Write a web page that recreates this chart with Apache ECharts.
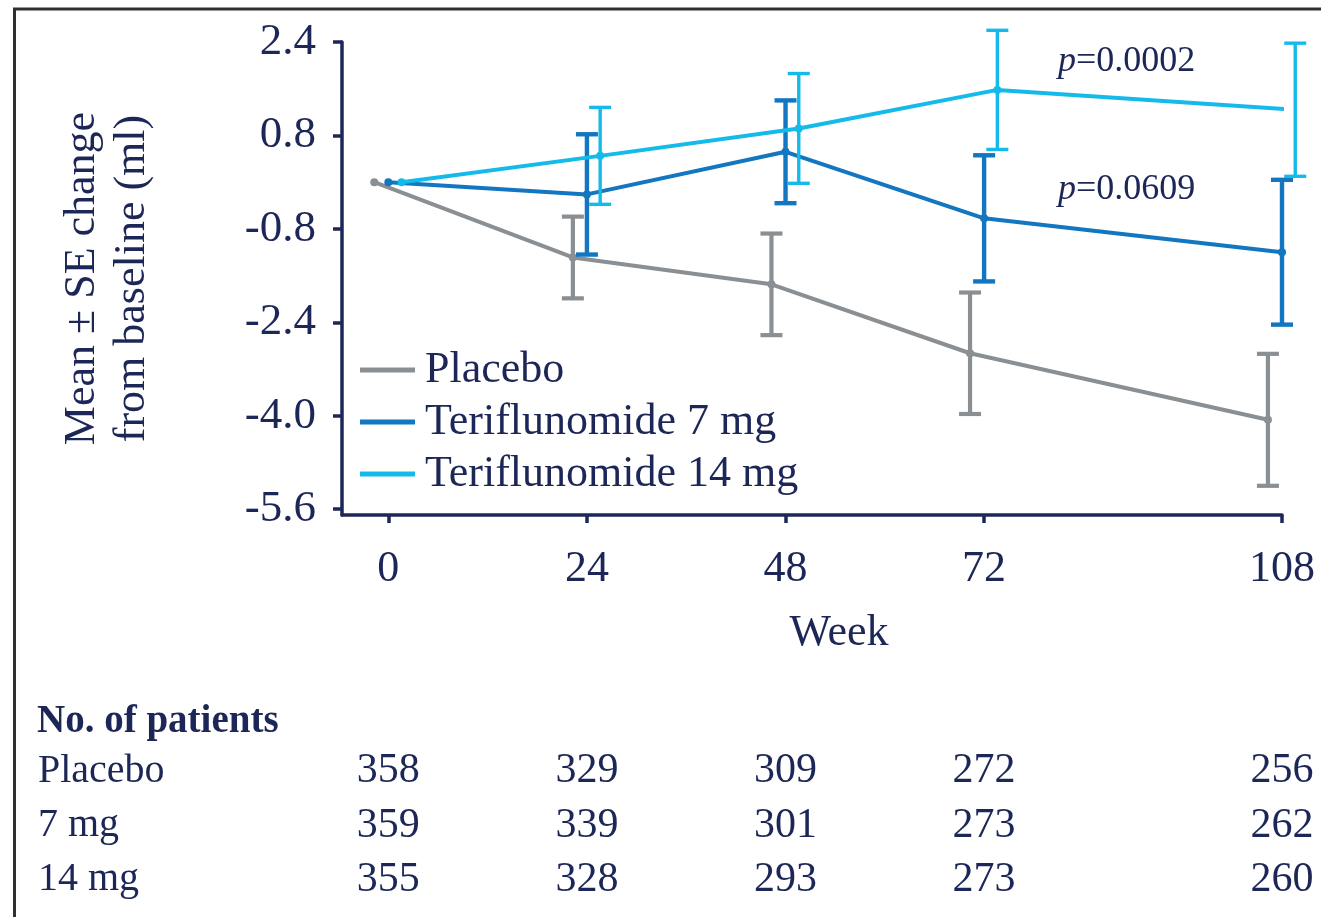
<!DOCTYPE html>
<html>
<head>
<meta charset="utf-8">
<script src="https://cdn.jsdelivr.net/npm/echarts@6/dist/echarts.min.js"></script>
<style>
  html, body { margin: 0; padding: 0; background: #ffffff; }
  #chart { width: 1321px; height: 917px; }
</style>
</head>
<body>
<div id="chart"></div>
<script>
// Study visits (weeks)
const weeks = [0, 24, 48, 72, 108];
const weekTicks = [0, 24, 48, 72, 108];
const yTicks = [-5.6, -4.0, -2.4, -0.8, 0.8, 2.4];

// Mean change from baseline and standard error per arm
const placeboMean = [0, -1.29, -1.75, -2.93, -4.07];
const placeboSE   = [0, 0.70, 0.87, 1.04, 1.13];
const mg7Mean     = [0, -0.21, 0.52, -0.62, -1.20];
const mg7SE       = [0, 1.03, 0.88, 1.08, 1.24];
const mg14Mean    = [0, 0.45, 0.92, 1.58, 1.24];
const mg14SE      = [0, 0.83, 0.94, 1.02, 1.14];

// Arm names
const armNames = ['Placebo', 'Teriflunomide 7 mg', 'Teriflunomide 14 mg'];

// Patients at risk
const rowNames  = ['Placebo', '7 mg', '14 mg'];
const placeboN  = [358, 329, 309, 272, 256];
const mg7N      = [359, 339, 301, 273, 262];
const mg14N     = [355, 328, 293, 273, 260];

// p-values versus placebo at week 108
const pValues = ['0.0002', '0.0609'];

const NAVY = '#1d2757';
const FONT = 'Liberation Serif';
const colors = ['#8a8f93', '#1276c0', '#14bae9'];
const dodge = [-1.7, 0, 1.6];           // horizontal separation of arms, in weeks
const barWidths = [4.2, 4.4, 3.4];

const means = [placeboMean, mg7Mean, mg14Mean];
const ses = [placeboSE, mg7SE, mg14SE];

const lineSeries = armNames.map((name, i) => ({
  name: name,
  type: 'line',
  xAxisIndex: 0, yAxisIndex: 0,
  data: weeks.map((w, k) => [w + dodge[i], means[i][k]]),
  symbol: 'circle',
  symbolSize: 8,
  lineStyle: { color: colors[i], width: 4 },
  itemStyle: { color: colors[i] },
  z: 2 + i * 2
}));

const errSeries = armNames.map((name, i) => ({
  name: name + ' SE',
  type: 'custom',
  xAxisIndex: 0, yAxisIndex: 0,
  data: weeks.map((w, k) => [w + dodge[i], means[i][k] - ses[i][k], means[i][k] + ses[i][k]])
             .filter((d, k) => ses[i][k] > 0),
  renderItem: function (params, api) {
    const x = api.value(0);
    const top = api.coord([x, api.value(2)]);
    const bot = api.coord([x, api.value(1)]);
    const half = 11;
    const st = { stroke: colors[i], lineWidth: barWidths[i] };
    return {
      type: 'group',
      children: [
        { type: 'line', shape: { x1: top[0], y1: top[1], x2: bot[0], y2: bot[1] }, style: st },
        { type: 'line', shape: { x1: top[0] - half, y1: top[1], x2: top[0] + half, y2: top[1] }, style: st },
        { type: 'line', shape: { x1: bot[0] - half, y1: bot[1], x2: bot[0] + half, y2: bot[1] }, style: st }
      ]
    };
  },
  z: 3 + i * 2
}));

const countSets = [placeboN, mg7N, mg14N];
const tableSeries = {
  type: 'scatter',
  xAxisIndex: 1, yAxisIndex: 1,
  symbolSize: 0,
  itemStyle: { opacity: 1 },
  data: rowNames.flatMap((r, i) => weeks.map((w, k) => [w, r, countSets[i][k]])),
  label: {
    show: true,
    position: 'inside',
    formatter: p => String(p.value[2]),
    fontFamily: FONT, fontSize: 42, color: NAVY, opacity: 1
  },
  silent: true
};

const chart = echarts.init(document.getElementById('chart'), null, { renderer: 'canvas' });
chart.setOption({
  backgroundColor: '#ffffff',
  animation: false,
  title: {
    text: 'No. of patients',
    left: 32, top: 697,
    textStyle: { fontFamily: FONT, fontSize: 39, fontWeight: 'bold', color: NAVY }
  },
  legend: {
    data: armNames,
    orient: 'vertical',
    left: 360, top: 348,
    padding: 0,
    icon: 'rect',
    itemWidth: 55, itemHeight: 5,
    itemGap: 8,
    textStyle: { fontFamily: FONT, fontSize: 44, color: NAVY, lineHeight: 44, padding: [0, 0, 0, 5] }
  },
  grid: [
    { left: 342, right: 39, top: 42, bottom: 402 },
    { left: 342, right: 39, top: 744, bottom: 10 }
  ],
  xAxis: [
    {
      type: 'value', gridIndex: 0, min: -5.6, max: 108,
      name: 'Week', nameLocation: 'middle', nameGap: 96,
      nameTextStyle: { fontFamily: FONT, fontSize: 44, color: NAVY, padding: [0, 0, 0, 54] },
      axisLine: { onZero: false, lineStyle: { color: NAVY, width: 3.5 } },
      axisTick: { show: true, customValues: weekTicks, length: 8, lineStyle: { color: NAVY, width: 3.5 } },
      axisLabel: { customValues: weekTicks, margin: 32, fontFamily: FONT, fontSize: 44, color: NAVY },
      splitLine: { show: false }
    },
    {
      type: 'value', gridIndex: 1, min: -5.6, max: 108, show: false
    }
  ],
  yAxis: [
    {
      type: 'value', gridIndex: 0, min: -5.7, max: 2.4,
      name: 'Mean \u00b1 SE change\nfrom baseline (ml)',
      nameLocation: 'middle', nameGap: 185, nameRotate: 90,
      nameTextStyle: { fontFamily: FONT, fontSize: 44, color: NAVY, lineHeight: 50 },
      axisLine: { show: true, onZero: false, lineStyle: { color: NAVY, width: 3.5 } },
      axisTick: { show: true, customValues: yTicks, length: 9, lineStyle: { color: NAVY, width: 3.5 } },
      axisLabel: {
        customValues: yTicks, margin: 26,
        formatter: v => v.toFixed(1),
        fontFamily: FONT, fontSize: 45, color: NAVY
      },
      splitLine: { show: false }
    },
    {
      type: 'category', gridIndex: 1, data: rowNames.slice(), inverse: true,
      axisLine: { show: false }, axisTick: { show: false }, splitLine: { show: false },
      axisLabel: { align: 'left', margin: 304, fontFamily: FONT, fontSize: 40, color: NAVY }
    }
  ],
  graphic: [
    {
      type: 'rect', silent: true,
      shape: { x: 14.5, y: 9, width: 1400, height: 1000 },
      style: { fill: 'none', stroke: '#303030', lineWidth: 3 }
    },
    {
      type: 'text', left: 1058, top: 44,
      style: {
        text: '{i|p}=' + pValues[0],
        rich: { i: { fontStyle: 'italic', fontFamily: FONT, fontSize: 36, fill: NAVY } },
        font: '36px "Liberation Serif"', fill: NAVY
      }
    },
    {
      type: 'text', left: 1058, top: 172,
      style: {
        text: '{i|p}=' + pValues[1],
        rich: { i: { fontStyle: 'italic', fontFamily: FONT, fontSize: 36, fill: NAVY } },
        font: '36px "Liberation Serif"', fill: NAVY
      }
    }
  ],
  series: [
    lineSeries[0], errSeries[0],
    lineSeries[1], errSeries[1],
    lineSeries[2], errSeries[2],
    tableSeries
  ]
});
</script>
</body>
</html>
